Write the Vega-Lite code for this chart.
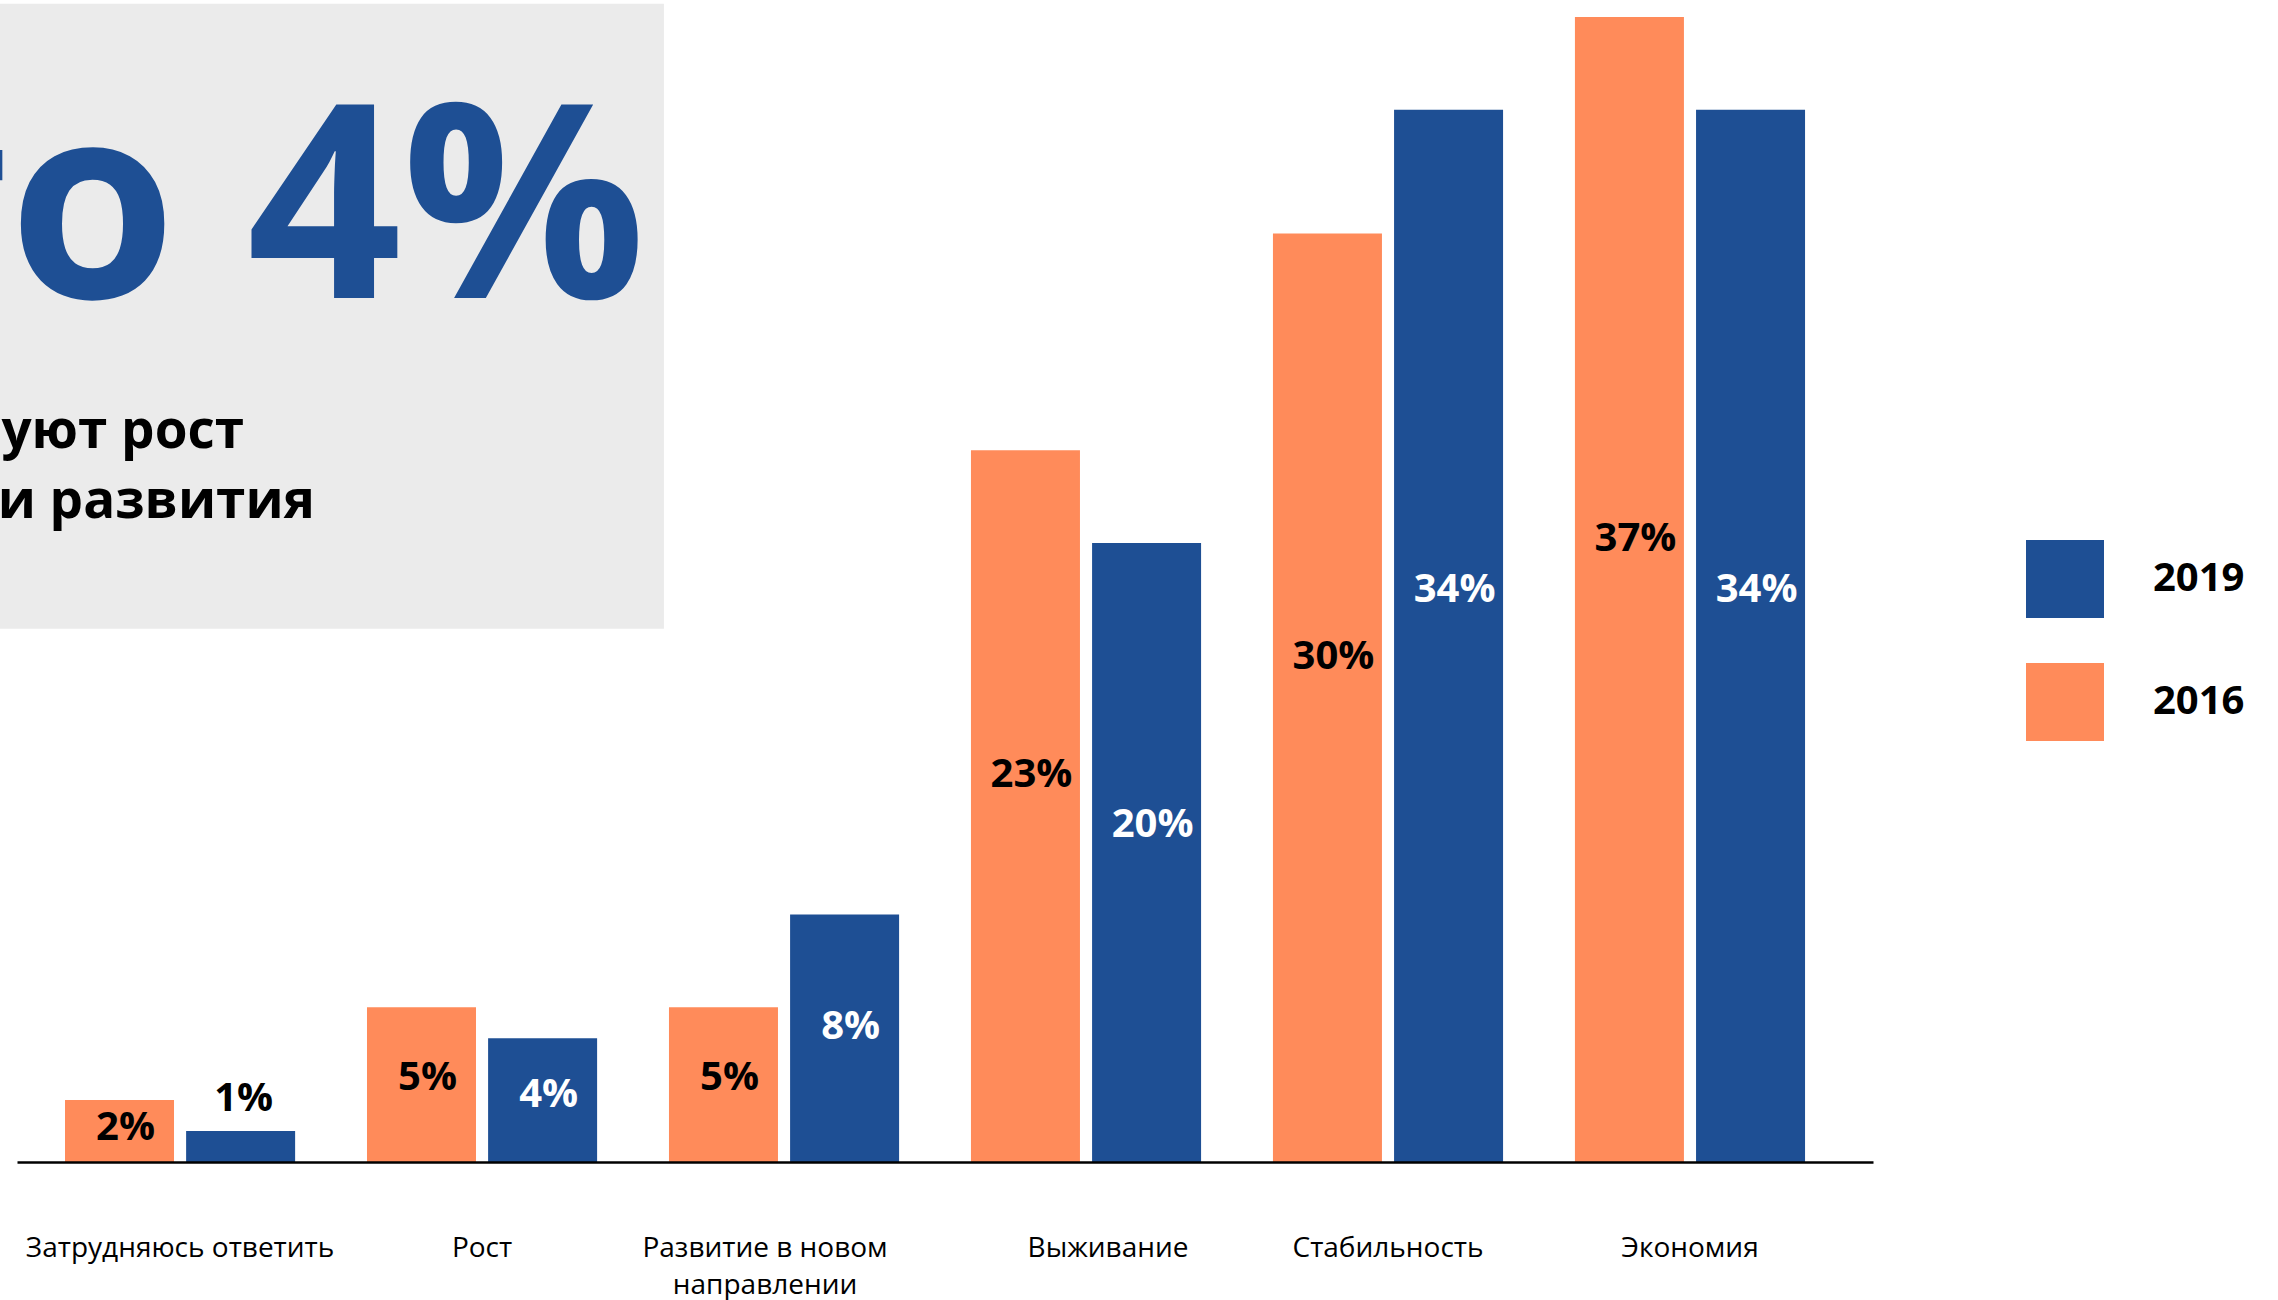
{
  "$schema": "https://vega.github.io/schema/vega-lite/v6.json",
  "autosize": {"type": "none"},
  "padding": {"left": 17, "top": 17, "right": 405, "bottom": 138},
  "width": 1856,
  "height": 1145,
  "background": "#ffffff",
  "config": {
    "view": {"stroke": null},
    "font": "Open Sans"
  },
  "data": {
    "values": [
      {"category": "Затрудняюсь ответить", "year": "2016", "value": 0.02},
      {"category": "Затрудняюсь ответить", "year": "2019", "value": 0.01},
      {"category": "Рост", "year": "2016", "value": 0.05},
      {"category": "Рост", "year": "2019", "value": 0.04},
      {"category": "Развитие в новом направлении", "year": "2016", "value": 0.05},
      {"category": "Развитие в новом направлении", "year": "2019", "value": 0.08},
      {"category": "Выживание", "year": "2016", "value": 0.23},
      {"category": "Выживание", "year": "2019", "value": 0.20},
      {"category": "Стабильность", "year": "2016", "value": 0.30},
      {"category": "Стабильность", "year": "2019", "value": 0.34},
      {"category": "Экономия", "year": "2016", "value": 0.37},
      {"category": "Экономия", "year": "2019", "value": 0.34}
    ]
  },
  "resolve": {"scale": {"y": "independent"}},
  "layer": [
    {
      "data": {"values": [{}]},
      "mark": {"type": "rect", "color": "#ebebeb"},
      "encoding": {
        "x": {"datum": "Затрудняюсь ответить", "bandPosition": -0.283},
        "x2": {"datum": "Развитие в новом направлении", "bandPosition": -0.022},
        "y": {"datum": 0.3743, "type": "quantitative", "scale": {"domain": [0, 0.37], "nice": false, "zero": true}, "axis": null},
        "y2": {"datum": 0.1723}
      }
    },
    {
      "data": {"values": [{}]},
      "mark": {"type": "text", "text": "то 4%", "align": "right", "baseline": "alphabetic", "font": "Open Sans", "fontWeight": "bold", "fontSize": 271, "color": "#1E4F94"},
      "encoding": {
        "x": {"datum": "Развитие в новом направлении", "bandPosition": -0.1},
        "y": {"datum": 0.2792, "type": "quantitative", "scale": {"domain": [0, 0.37], "nice": false, "zero": true}, "axis": null}
      }
    },
    {
      "data": {"values": [{}]},
      "mark": {"type": "text", "text": "уют рост", "align": "right", "baseline": "alphabetic", "font": "Open Sans", "fontWeight": "bold", "fontSize": 53, "color": "#000000"},
      "encoding": {
        "x": {"datum": "Затрудняюсь ответить", "bandPosition": 0.778},
        "y": {"datum": 0.2307, "type": "quantitative", "scale": {"domain": [0, 0.37], "nice": false, "zero": true}, "axis": null}
      }
    },
    {
      "data": {"values": [{}]},
      "mark": {"type": "text", "text": "ии развития", "align": "right", "baseline": "alphabetic", "font": "Open Sans", "fontWeight": "bold", "fontSize": 53, "color": "#000000"},
      "encoding": {
        "x": {"datum": "Рост", "bandPosition": -0.226},
        "y": {"datum": 0.2080, "type": "quantitative", "scale": {"domain": [0, 0.37], "nice": false, "zero": true}, "axis": null}
      }
    },
    {
      "mark": {"type": "bar"},
      "encoding": {
        "x": {
          "field": "category", "type": "nominal",
          "scale": {
            "domain": ["Затрудняюсь ответить", "Рост", "Развитие в новом направлении", "Выживание", "Стабильность", "Экономия"],
            "paddingInner": 0.238, "paddingOuter": 0.192, "align": 0.414
          },
          "axis": {
            "title": null,
            "ticks": false,
            "domain": true,
            "domainColor": "#000000",
            "domainWidth": 2.5,
            "labelAngle": 0,
            "labelAlign": "center",
            "labelFont": "Open Sans",
            "labelFontSize": 28,
            "labelColor": "#000000",
            "labelPadding": 72,
            "labelLimit": 0,
            "labelLineHeight": 37,
            "labelBaseline": "top",
            "labelExpr": "datum.label == 'Развитие в новом направлении' ? ['Развитие в новом', 'направлении'] : datum.label",
            "labelOffset": {"condition": [{"test": "datum.value == 'Выживание'", "value": 22}, {"test": "datum.value == 'Развитие в новом направлении'", "value": -19}], "value": 0}
          }
        },
        "xOffset": {"field": "year", "type": "nominal", "scale": {"domain": ["2016", "2019"], "paddingInner": 0.1}},
        "y": {"field": "value", "type": "quantitative", "scale": {"domain": [0, 0.37], "nice": false, "zero": true}, "axis": null},
        "color": {
          "field": "year", "type": "nominal",
          "scale": {"domain": ["2019", "2016"], "range": ["#1E4F94", "#FF8B5A"]},
          "legend": {
            "orient": "none",
            "legendX": 2009,
            "legendY": 523,
            "title": null,
            "padding": 0,
            "symbolType": "square",
            "symbolSize": 6084,
            "symbolStrokeWidth": 0,
            "symbolOpacity": 1,
            "rowPadding": 45,
            "labelOffset": 49,
            "labelFont": "Open Sans",
            "labelFontSize": 40,
            "labelFontWeight": "bold",
            "labelColor": "#000000"
          }
        }
      }
    },
    {
      "transform": [{"filter": "datum.value >= 0.015"}],
      "mark": {"type": "text", "font": "Open Sans", "fontWeight": "bold", "fontSize": 40, "baseline": "middle", "align": "center", "dx": 6},
      "encoding": {
        "x": {"field": "category", "type": "nominal"},
        "xOffset": {"field": "year", "type": "nominal"},
        "y": {"field": "value", "type": "quantitative", "scale": {"domain": [0, 0.68], "nice": false, "zero": true}, "axis": null},
        "text": {"field": "value", "type": "quantitative", "format": ".0%"},
        "color": {"condition": {"test": "datum.year == '2016'", "value": "#000000"}, "value": "#ffffff"}
      }
    },
    {
      "transform": [{"filter": "datum.value < 0.015"}],
      "mark": {"type": "text", "font": "Open Sans", "fontWeight": "bold", "fontSize": 40, "baseline": "middle", "align": "center", "dy": -32, "dx": 3, "color": "#000000"},
      "encoding": {
        "x": {"field": "category", "type": "nominal"},
        "xOffset": {"field": "year", "type": "nominal"},
        "y": {"field": "value", "type": "quantitative", "scale": {"domain": [0, 0.37], "nice": false, "zero": true}, "axis": null},
        "text": {"field": "value", "type": "quantitative", "format": ".0%"}
      }
    }
  ]
}
